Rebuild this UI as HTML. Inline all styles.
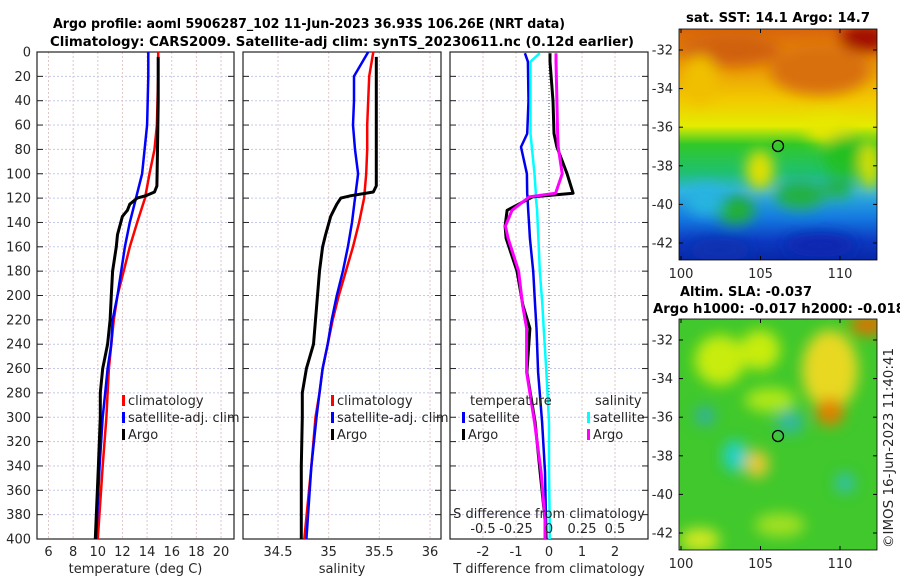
<!DOCTYPE html>
<html><head><meta charset="utf-8"><style>
body{margin:0;background:#fff}
svg{display:block;font-family:"DejaVu Sans","Liberation Sans",sans-serif}
.tk{font-size:13px;fill:#262626}
.tt{font-size:13px;font-weight:bold;fill:#000}
</style></head><body>
<svg id="fig" width="900" height="580" viewBox="0 0 900 580">
<defs>
<linearGradient id="sstg" x1="0" y1="0" x2="0" y2="1">
<stop offset="0" stop-color="#d9650c"/><stop offset="0.12" stop-color="#e88a08"/><stop offset="0.3" stop-color="#f2c800"/><stop offset="0.42" stop-color="#e4ec00"/><stop offset="0.5" stop-color="#30c828"/><stop offset="0.62" stop-color="#20c070"/><stop offset="0.7" stop-color="#30b4e0"/><stop offset="0.82" stop-color="#1478e0"/><stop offset="0.92" stop-color="#0c38c0"/><stop offset="1" stop-color="#0828a8"/>
</linearGradient>
<filter id="bl" x="-50%" y="-50%" width="200%" height="200%"><feGaussianBlur stdDeviation="7"/></filter>
<clipPath id="c1"><rect x="679" y="29" width="198" height="231"/></clipPath>
<clipPath id="c2"><rect x="679" y="319" width="198" height="231"/></clipPath>
</defs>
<text class="tt" x="53" y="28" textLength="512" lengthAdjust="spacingAndGlyphs">Argo profile: aoml 5906287_102 11-Jun-2023 36.93S 106.26E (NRT data)</text>
<text class="tt" x="50" y="46" textLength="584" lengthAdjust="spacingAndGlyphs">Climatology: CARS2009. Satellite-adj clim: synTS_20230611.nc (0.12d earlier)</text>
<g id="p1"></g>
<g id="p2"></g>
<g id="p3"></g>

<!-- SST map -->
<g>
<text class="tt" x="686" y="22" textLength="184" lengthAdjust="spacingAndGlyphs">sat. SST: 14.1 Argo: 14.7</text>
<g clip-path="url(#c1)">
<rect x="679" y="29" width="198" height="231" fill="url(#sstg)"/>
<g filter="url(#bl)">
<ellipse cx="730" cy="50" rx="50" ry="16" fill="#d0600c"/>
<ellipse cx="820" cy="70" rx="50" ry="25" fill="#d8700c"/>
<ellipse cx="865" cy="38" rx="25" ry="14" fill="#a01000"/>
<ellipse cx="700" cy="80" rx="18" ry="25" fill="#f0c000"/>
<ellipse cx="830" cy="130" rx="25" ry="12" fill="#e8e800"/>
<ellipse cx="760" cy="170" rx="14" ry="20" fill="#e0e000"/>
<ellipse cx="845" cy="155" rx="22" ry="20" fill="#20c020"/>
<ellipse cx="870" cy="165" rx="10" ry="25" fill="#d8e000"/>
<ellipse cx="735" cy="210" rx="20" ry="14" fill="#20b030"/>
<ellipse cx="800" cy="195" rx="25" ry="14" fill="#20b040"/>
<ellipse cx="838" cy="188" rx="15" ry="10" fill="#20b040"/>
<ellipse cx="705" cy="200" rx="18" ry="16" fill="#28b4e0"/>
<ellipse cx="720" cy="250" rx="30" ry="12" fill="#0830b0"/>
<ellipse cx="820" cy="245" rx="35" ry="12" fill="#0828b0"/>
</g>
</g>
<rect x="679" y="29" width="198" height="231" fill="none" stroke="#000" stroke-width="0.8"/>
<circle cx="778" cy="146" r="5.5" fill="none" stroke="#000" stroke-width="1.3"/>
</g>
<!-- SLA map -->
<g>
<text class="tt" x="680" y="296" textLength="132" lengthAdjust="spacingAndGlyphs">Altim. SLA: -0.037</text>
<text class="tt" x="653" y="313" textLength="252" lengthAdjust="spacingAndGlyphs">Argo h1000: -0.017 h2000: -0.018</text>
<g clip-path="url(#c2)">
<rect x="679" y="319" width="198" height="231" fill="#40c82c"/>
<g filter="url(#bl)">
<ellipse cx="720" cy="360" rx="25" ry="25" fill="#c8ec10"/>
<ellipse cx="760" cy="350" rx="20" ry="20" fill="#c8ec10"/>
<ellipse cx="830" cy="370" rx="28" ry="40" fill="#e8d820"/>
<ellipse cx="830" cy="412" rx="14" ry="14" fill="#e08000"/>
<ellipse cx="868" cy="325" rx="18" ry="10" fill="#e07000"/>
<ellipse cx="770" cy="400" rx="25" ry="12" fill="#b0e818"/>
<ellipse cx="757" cy="464" rx="12" ry="14" fill="#e8c830"/>
<ellipse cx="790" cy="422" rx="14" ry="12" fill="#30b8a0"/>
<ellipse cx="735" cy="456" rx="12" ry="16" fill="#20d0c8"/>
<ellipse cx="705" cy="416" rx="10" ry="10" fill="#30b0a0"/>
<ellipse cx="845" cy="483" rx="10" ry="10" fill="#30c0b0"/>
<ellipse cx="700" cy="540" rx="20" ry="12" fill="#d0e820"/>
<ellipse cx="780" cy="525" rx="25" ry="12" fill="#a0e020"/>
</g>
</g>
<rect x="679" y="319" width="198" height="231" fill="none" stroke="#000" stroke-width="0.8"/>
<circle cx="778" cy="436" r="5.5" fill="none" stroke="#000" stroke-width="1.3"/>
<text class="tk" transform="translate(893,448) rotate(-90)" text-anchor="middle" textLength="200" lengthAdjust="spacingAndGlyphs">©IMOS 16-Jun-2023 11:40:41</text>
</g>
<g id="mapticks"></g>
</svg>
<script>
// ---- data ----
const tDepth=[0,20,40,60,80,100,120,140,160,180,200,220,240,260,280,300,340,400];
const tClim=[14.9,14.9,14.85,14.8,14.6,14.2,13.83,13.2,12.6,12.1,11.6,11.3,11.1,10.9,10.8,10.7,10.4,10.0];
const tSat=[14.1,14.1,14.05,14.0,13.8,13.6,13.1,12.6,12.2,11.9,11.6,11.2,11.1,10.8,10.6,10.4,10.15,9.86];
const argoDepth=[4,40,80,110,115,118,120,125,130,135,150,160,180,200,220,240,260,280,300,340,400];
const tArgo=[14.9,14.9,14.85,14.8,14.6,13.9,13.2,12.6,12.4,12.0,11.6,11.5,11.2,11.1,11.0,10.8,10.4,10.2,10.2,10.05,9.8];
const sClim=[35.44,35.40,35.39,35.38,35.38,35.37,35.35,35.30,35.24,35.17,35.10,35.04,34.99,34.94,34.91,34.87,34.83,34.76];
const sSat=[35.39,35.25,35.25,35.24,35.26,35.29,35.26,35.23,35.19,35.14,35.08,35.03,34.99,34.94,34.91,34.88,34.83,34.78];
const sArgo=[35.47,35.47,35.47,35.47,35.44,35.22,35.12,35.08,35.05,35.02,34.97,34.94,34.91,34.89,34.87,34.85,34.78,34.74,34.74,34.73,34.73];
const dDepth=[1,8,40,67,78,100,116,119,130,143,153,180,208,227,263,304,345,384,400];
const dTSat=[-0.73,-0.64,-0.62,-0.66,-0.85,-0.67,-0.66,-0.65,-0.63,-0.6,-0.58,-0.48,-0.42,-0.38,-0.33,-0.21,-0.12,-0.09,-0.08];
const dSSat=[-0.07,-0.14,-0.14,-0.14,-0.13,-0.11,-0.1,-0.1,-0.09,-0.085,-0.08,-0.07,-0.05,-0.04,-0.02,0,0,0.005,0.005];
const dTArgo=[0.03,0.03,0.12,0.15,0.24,0.55,0.73,-0.5,-1.27,-1.33,-1.3,-0.97,-0.79,-0.58,-0.67,-0.42,-0.27,-0.12,-0.1];
const dSArgo=[0.053,0.053,0.06,0.065,0.07,0.1,0.05,-0.15,-0.28,-0.33,-0.31,-0.23,-0.2,-0.17,-0.17,-0.11,-0.06,-0.03,-0.03];
const depthTicks=[0,20,40,60,80,100,120,140,160,180,200,220,240,260,280,300,320,340,360,380,400];
const tTicks=[6,8,10,12,14,16,18,20];
const sTicks=[34.5,35,35.5,36];
const dTTicks=[-2,-1,0,1,2];
const dSTicks=[-0.5,-0.25,0,0.25,0.5];
const lonTicks=[100,105,110];
const latTicks=[-32,-34,-36,-38,-40,-42];

const NS='http://www.w3.org/2000/svg';
function mk(p,tag,at){const e=document.createElementNS(NS,tag);for(const k in at)e.setAttribute(k,at[k]);p.appendChild(e);return e;}
const Y0=52,Y1=539;
const y=d=>Y0+(Y1-Y0)*d/400;
function lin(d0,d1,r0,r1){return v=>r0+(v-d0)*(r1-r0)/(d1-d0);}
const xT=lin(6,20,48.5,221);
const xS=lin(34.5,36,278,430);
const xD=lin(0,1,549,582);
const xDS=lin(0,0.25,549,582);

function panel(g,x0,x1,xs,ticks,lab,name,gridX){
  for(const d of depthTicks){
    const l=mk(g,'line',{x1:x0,x2:x1,y1:y(d),y2:y(d),stroke:'#c4c8ea','stroke-width':1,'stroke-dasharray':'2,2'});
    
    
    mk(g,'line',{x1:x0,x2:x0+6,y1:y(d),y2:y(d),stroke:'#222'});
    mk(g,'line',{x1:x1-6,x2:x1,y1:y(d),y2:y(d),stroke:'#222'});
  }
  for(const v of gridX){
    const l=mk(g,'line',{x1:xs(v),x2:xs(v),y1:Y0,y2:Y1,stroke:'#e2c6c6','stroke-width':1,'stroke-dasharray':'2,2'});
    
    
  }
  for(const v of ticks){
    const t=mk(g,'text',{x:xs(v),y:556,'text-anchor':'middle',class:'tk'});t.textContent=v;
    
    
  }
  const r=mk(g,'rect',{x:x0,y:Y0,width:x1-x0,height:Y1-Y0,fill:'none',stroke:'#222','stroke-width':1.2});
  
  
  if(lab){const t=mk(g,'text',{x:(x0+x1)/2,y:573,'text-anchor':'middle',class:'tk'});t.textContent=lab;
    
    }
}
function line(g,xs,vals,deps,col,w,name){
  const pts=vals.map((v,i)=>xs(v).toFixed(1)+','+y(deps[i]).toFixed(1)).join(' ');
  const p=mk(g,'polyline',{points:pts,fill:'none',stroke:col,'stroke-width':w,'stroke-linejoin':'round'});
  
  
}
function leg(g,x,yy,col,txt,name){
  mk(g,'rect',{x:x,y:yy-10,width:3,height:11,fill:col});
  const t=mk(g,'text',{x:x+6,y:yy,class:'tk'});t.textContent=txt;
  
  
}
const p1=document.getElementById('p1'),p2=document.getElementById('p2'),p3=document.getElementById('p3');
panel(p1,37,234,xT,tTicks,'temperature (deg C)','temperature',tTicks);
for(const d of depthTicks){const t=mk(p1,'text',{x:31,y:y(d)+4.5,'text-anchor':'end',class:'tk'});t.textContent=d;
  
  }
line(p1,xT,tClim,tDepth,'#ff0000',2.5,'temp-climatology-line');
line(p1,xT,tSat,tDepth,'#0000ff',2.5,'temp-satellite-line');
line(p1,xT,tArgo,argoDepth,'#000',3,'temp-argo-line');
leg(p1,122,405,'#f00','climatology','legend-climatology');
leg(p1,122,422,'#00f','satellite-adj. clim','legend-satellite');
leg(p1,122,439,'#000','Argo','legend-argo');

panel(p2,243,441,xS,sTicks,'salinity','salinity',sTicks);
line(p2,xS,sClim,tDepth,'#ff0000',2.5,'sal-climatology-line');
line(p2,xS,sSat,tDepth,'#0000ff',2.5,'sal-satellite-line');
line(p2,xS,sArgo,argoDepth,'#000',3,'sal-argo-line');
leg(p2,331,405,'#f00','climatology','legend-climatology-2');
leg(p2,331,422,'#00f','satellite-adj. clim','legend-satellite-2');
leg(p2,331,439,'#000','Argo','legend-argo-2');

panel(p3,450,648,xD,dTTicks,'T difference from climatology','difference',[-2,-1,1,2]);
mk(p3,'line',{x1:549,x2:549,y1:Y0,y2:Y1,stroke:'#444','stroke-width':1,'stroke-dasharray':'1,2'});
line(p3,xD,dTSat,dDepth,'#0000ee',2.5,'dt-satellite-line');
line(p3,xDS,dSSat,dDepth,'#00ffff',2.5,'ds-satellite-line');
line(p3,xD,dTArgo,dDepth,'#000',3,'dt-argo-line');
line(p3,xDS,dSArgo,dDepth,'#ff00ff',3,'ds-argo-line');
{const t=mk(p3,'text',{x:470,y:405,class:'tk'});t.textContent='temperature';
 
 const u=mk(p3,'text',{x:595,y:405,class:'tk'});u.textContent='salinity';
 }
leg(p3,462,422,'#00e','satellite','legend-t-satellite');
leg(p3,462,439,'#000','Argo','legend-t-argo');
leg(p3,587,422,'#0ff','satellite','legend-s-satellite');
leg(p3,587,439,'#f0f','Argo','legend-s-argo');
{const t=mk(p3,'text',{x:549,y:518,'text-anchor':'middle',class:'tk'});t.textContent='S difference from climatology';
 }
for(const v of dSTicks){const t=mk(p3,'text',{x:xDS(v),y:533,'text-anchor':'middle',class:'tk'});t.textContent=v;
 
 }

// map axes
const mt=document.getElementById('mapticks');
const lonX=lin(100,110,681,840);
for(const [top,bot] of [[29,260],[319,550]]){
  const latY=lin(-32,-42,top+21,top+214);
  for(const v of lonTicks){
    mk(mt,'line',{x1:lonX(v),x2:lonX(v),y1:bot,y2:bot-4,stroke:'#000'});
    mk(mt,'line',{x1:lonX(v),x2:lonX(v),y1:top,y2:top+4,stroke:'#000'});
    const t=mk(mt,'text',{x:lonX(v),y:bot+18,'text-anchor':'middle',class:'tk'});t.textContent=v;
    
    
  }
  for(const v of latTicks){
    mk(mt,'line',{x1:679,x2:683,y1:latY(v),y2:latY(v),stroke:'#000'});
    mk(mt,'line',{x1:873,x2:877,y1:latY(v),y2:latY(v),stroke:'#000'});
    const t=mk(mt,'text',{x:673,y:latY(v)+4.5,'text-anchor':'end',class:'tk'});t.textContent=v;
    
    
  }
}
</script>
</body></html>
